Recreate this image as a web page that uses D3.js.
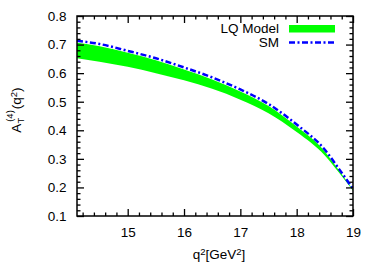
<!DOCTYPE html>
<html>
<head>
<meta charset="utf-8">
<script src="https://cdn.jsdelivr.net/npm/d3@7"></script>
<style>
  body { margin: 0; background: #fff; }
  text { font-family: "Liberation Sans", Arial, sans-serif; }
</style>
</head>
<body>
<div id="chart"></div>
<script>
// values
var q2 =   [14.1, 14.5, 15.0, 15.5, 16.0, 16.5, 17.0, 17.5, 18.0, 18.5, 18.75, 19.0];
var smVals = [0.713, 0.702, 0.678, 0.652, 0.620, 0.585, 0.543, 0.492, 0.420, 0.332, 0.265, 0.195];
var lqHigh = [0.706, 0.694, 0.671, 0.645, 0.613, 0.578, 0.536, 0.485, 0.413, 0.326, 0.260, 0.192];
var lqLow  = [0.652, 0.640, 0.622, 0.600, 0.575, 0.545, 0.507, 0.460, 0.394, 0.312, 0.252, 0.188];
var xTicks = [15, 16, 17, 18, 19];
var yTicks = [0.1, 0.2, 0.3, 0.4, 0.5, 0.6, 0.7, 0.8];

var width = 382, height = 273;
var margin = {top: 16, right: 29, bottom: 57, left: 77};

var svg = d3.select('#chart').append('svg')
    .attr('width', width)
    .attr('height', height);

var x = d3.scaleLinear().domain([14.1, 19]).range([margin.left, width - margin.right]);
var y = d3.scaleLinear().domain([0.1, 0.8]).range([height - margin.bottom, margin.top]);

var rows = q2.map(function(d, i) {
    return {q: d, sm: smVals[i], hi: lqHigh[i], lo: lqLow[i]};
});

// green band
var area = d3.area()
    .x(function(d) { return x(d.q); })
    .y0(function(d) { return y(d.lo); })
    .y1(function(d) { return y(d.hi); })
    .curve(d3.curveMonotoneX);
svg.append('path').datum(rows)
    .attr('d', area)
    .attr('fill', '#00ff00');

// SM line
var line = d3.line()
    .x(function(d) { return x(d.q); })
    .y(function(d) { return y(d.sm); })
    .curve(d3.curveMonotoneX);
svg.append('path').datum(rows)
    .attr('d', line)
    .attr('fill', 'none')
    .attr('stroke', '#0000ff')
    .attr('stroke-width', 2.5)
    .attr('stroke-dasharray', '6,2.5,2,2.5');

// axes: ticks on every side
var minorX = d3.range(14.2, 19.001, 0.2).filter(function(v) { return Math.abs(v - Math.round(v)) > 0.01; });
var minorY = d3.range(0.1, 0.801, 0.02).filter(function(v) { return Math.abs(v * 10 - Math.round(v * 10)) > 0.01; });

function ticks(axisFn, scale, major, minor, fmt, pad) {
    var g = svg.append('g');
    var mg = g.append('g').call(axisFn(scale).tickValues(minor).tickSize(-3.5));
    mg.selectAll('text').remove();
    var Mg = g.append('g').call(axisFn(scale).tickValues(major).tickSize(-7)
        .tickPadding(pad || 0)
        .tickFormat(fmt ? d3.format(fmt) : ''));
    if (!fmt) Mg.selectAll('text').remove();
    g.selectAll('.domain').remove();
    g.selectAll('line').attr('stroke', '#000').attr('stroke-width', 1.3);
    g.selectAll('text').attr('font-size', 13.5).attr('fill', '#000');
    return g;
}

ticks(d3.axisBottom, x, xTicks, minorX, 'd', 11)
    .attr('transform', 'translate(0,' + (height - margin.bottom) + ')');
ticks(d3.axisTop, x, xTicks, minorX, null)
    .attr('transform', 'translate(0,' + margin.top + ')');
ticks(d3.axisLeft, y, yTicks, minorY, '.1f', 10.5)
    .attr('transform', 'translate(' + margin.left + ',0)');
ticks(d3.axisRight, y, yTicks, minorY, null)
    .attr('transform', 'translate(' + (width - margin.right) + ',0)');

// frame
svg.append('rect')
    .attr('x', margin.left).attr('y', margin.top)
    .attr('width', width - margin.left - margin.right)
    .attr('height', height - margin.top - margin.bottom)
    .attr('fill', 'none').attr('stroke', '#000').attr('stroke-width', 1.5);

// x label
var xl = svg.append('text')
    .attr('x', 219).attr('y', 259)
    .attr('text-anchor', 'middle')
    .attr('font-size', 13.5);
xl.append('tspan').text('q');
xl.append('tspan').attr('baseline-shift', '40%').attr('font-size', 9.5).text('2');
xl.append('tspan').text('[GeV');
xl.append('tspan').attr('baseline-shift', '40%').attr('font-size', 9.5).text('2');
xl.append('tspan').text(']');

// y label
var yl = svg.append('text')
    .attr('transform', 'translate(21,110) rotate(-90)')
    .attr('text-anchor', 'middle')
    .attr('font-size', 13.5);
yl.append('tspan').text('A');
yl.append('tspan').attr('baseline-shift', '-25%').attr('font-size', 9.5).text('T');
yl.append('tspan').attr('dy', -8).attr('dx', -4).attr('font-size', 9.5).text('(4)');
yl.append('tspan').attr('dy', 8).attr('dx', 1).text('(q');
yl.append('tspan').attr('baseline-shift', '40%').attr('font-size', 9.5).text('2');
yl.append('tspan').text(')');

// legend
var legend = svg.append('g');
legend.append('text').attr('x', 279).attr('y', 33)
    .attr('text-anchor', 'end').attr('font-size', 13.5).text('LQ Model');
legend.append('rect').attr('x', 289).attr('y', 25)
    .attr('width', 46).attr('height', 7.5).attr('fill', '#00ff00');
legend.append('text').attr('x', 279).attr('y', 47)
    .attr('text-anchor', 'end').attr('font-size', 13.5).text('SM');
legend.append('line')
    .attr('x1', 289).attr('x2', 334).attr('y1', 42.5).attr('y2', 42.5)
    .attr('stroke', '#0000ff').attr('stroke-width', 2.5)
    .attr('stroke-dasharray', '6,2.5,2,2.5');
</script>
</body>
</html>
